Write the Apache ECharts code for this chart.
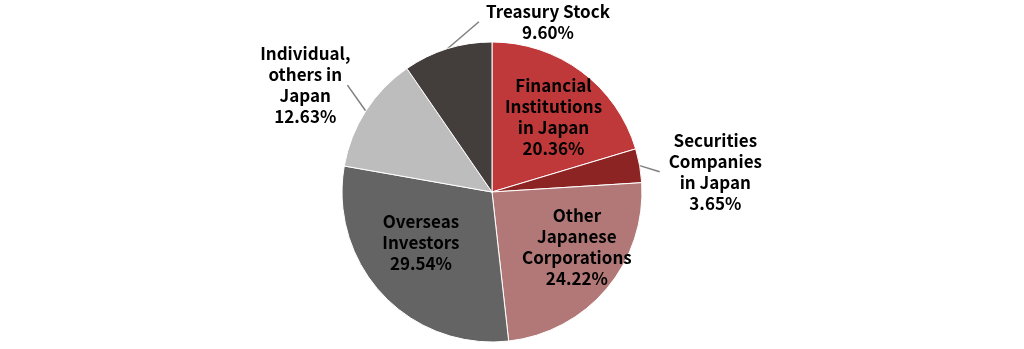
<!DOCTYPE html>
<html>
<head>
<meta charset="utf-8">
<script src="https://cdn.jsdelivr.net/npm/echarts@6/dist/echarts.min.js"></script>
<style>
  html, body { margin: 0; padding: 0; background: #fff; }
  #chart { width: 1024px; height: 349px; }
</style>
</head>
<body>
<div id="chart"></div>
<script>
// shareholder composition
var categories = [
  'Financial\nInstitutions\nin Japan',
  'Securities\nCompanies\nin Japan',
  'Other\nJapanese\nCorporations',
  'Overseas\nInvestors',
  'Individual,\nothers in\nJapan',
  'Treasury Stock'
];
var shares = [20.36, 3.65, 24.22, 29.54, 12.63, 9.60];
var colors = ['#C0393A', '#8B2423', '#B27878', '#646464', '#BCBDBC', '#433D3B'];
var insideLabel = [true, false, true, true, false, false];
// label nudges (px): inside ones from default spot, outside ones from leader end
// third value = gap between leader end and label side
var labelShift = [[0, 8], [54, 10, 9], [6, -11], [4, -20], [-42, -14, -3], [107, -6, 7]];

var chart = echarts.init(document.getElementById('chart'));

var labelFont = {
  fontFamily: 'Noto Sans CJK JP',
  fontWeight: 'bold',
  fontSize: 17,
  lineHeight: 21,
  color: '#000'
};

var pieData = [], labelData = [];
for (var i = 0; i < shares.length; i++) {
  var txt = categories[i] + '\n' + shares[i].toFixed(2) + '%';
  pieData.push({
    name: categories[i],
    value: shares[i],
    itemStyle: { color: colors[i] },
    label: insideLabel[i] ? { show: false } : { show: true, formatter: txt },
    labelLine: { show: !insideLabel[i] }
  });
  labelData.push({
    name: categories[i],
    value: shares[i],
    label: insideLabel[i] ? { show: true, formatter: txt } : { show: false }
  });
}

function shiftInside(params) {
  var s = labelShift[params.dataIndex];
  return { dx: s[0], dy: s[1], align: 'center' };
}

// move outside labels, then run leader from slice edge to the label's near side
function shiftOutside(params) {
  var s = labelShift[params.dataIndex];
  var pts = params.labelLinePoints;
  if (!pts) return {};
  var start = pts[0], end = pts[pts.length - 1];
  var cx = end[0] + s[0], cy = end[1] + s[1];
  var half = params.labelRect.width / 2 + (s[2] || 0);
  var sideX = cx > start[0] ? cx - half : cx + half;
  return {
    x: cx, y: cy, align: 'center', verticalAlign: 'middle',
    labelLinePoints: [start, [sideX, cy]]
  };
}

chart.setOption({
  animation: false,
  series: [
    {
      type: 'pie',
      center: [492, 192],
      radius: [0, 150],
      startAngle: 90,
      clockwise: true,
      avoidLabelOverlap: false,
      itemStyle: { borderColor: '#fff', borderWidth: 1 },
      label: Object.assign({ position: 'outside' }, labelFont),
      labelLine: { length: 22, length2: 0, lineStyle: { color: '#7F7F7F', width: 1.5 } },
      labelLayout: shiftOutside,
      data: pieData
    },
    {
      // transparent overlay to place inside labels further out
      type: 'pie',
      silent: true,
      center: [492, 192],
      radius: [50, 150],
      startAngle: 90,
      clockwise: true,
      itemStyle: { color: 'rgba(0,0,0,0)' },
      label: Object.assign({ position: 'inside' }, labelFont),
      labelLine: { show: false },
      labelLayout: shiftInside,
      data: labelData
    }
  ]
});
</script>
</body>
</html>
